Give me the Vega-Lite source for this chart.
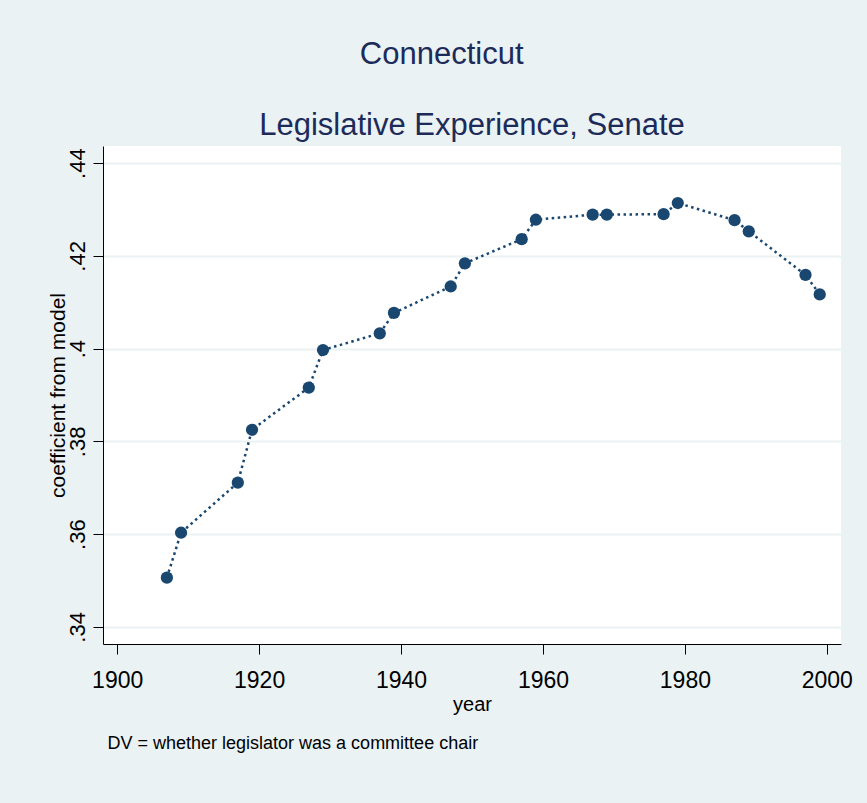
{
  "$schema": "https://vega.github.io/schema/vega-lite/v6.json",
  "background": "#EAF2F3",
  "padding": {"left": 47, "top": 39, "right": 14, "bottom": 66},
  "title": {"text": "Connecticut", "anchor": "middle", "frame": "bounds", "font": "Liberation Sans", "fontSize": 31, "fontWeight": "normal", "color": "#1C2B5A", "baseline": "alphabetic", "offset": 15, "dx": -8},
  "vconcat": [
    {
      "width": 738,
      "height": 498,
      "title": {"text": "Legislative Experience, Senate", "anchor": "middle", "frame": "group", "font": "Liberation Sans", "fontSize": 31, "fontWeight": "normal", "color": "#1C2B5A", "baseline": "alphabetic", "offset": -20},
      "data": {"values": [
        {"year": 1907, "coef": 0.3506},
        {"year": 1909, "coef": 0.3603},
        {"year": 1917, "coef": 0.3711},
        {"year": 1919, "coef": 0.3825},
        {"year": 1927, "coef": 0.3916},
        {"year": 1929, "coef": 0.3997},
        {"year": 1937, "coef": 0.4033},
        {"year": 1939, "coef": 0.4077},
        {"year": 1947, "coef": 0.4134},
        {"year": 1949, "coef": 0.4184},
        {"year": 1957, "coef": 0.4236},
        {"year": 1959, "coef": 0.4278},
        {"year": 1967, "coef": 0.4289},
        {"year": 1969, "coef": 0.4289},
        {"year": 1977, "coef": 0.4290},
        {"year": 1979, "coef": 0.4314},
        {"year": 1987, "coef": 0.4277},
        {"year": 1989, "coef": 0.4253},
        {"year": 1997, "coef": 0.4159},
        {"year": 1999, "coef": 0.4117}
      ]},
      "encoding": {
        "y": {"field": "coef", "type": "quantitative",
          "scale": {"domain": [0.3363, 0.4437], "nice": false, "zero": false},
          "axis": {"values": [0.34, 0.36, 0.38, 0.40, 0.42, 0.44], "labelExpr": "replace(format(datum.value, '.2~f'), '0.', '.')",
            "title": "coefficient from model", "titleFont": "Liberation Sans", "titleFontSize": 21, "titleFontWeight": "normal", "titleColor": "black",
            "titleAngle": 270, "titleBaseline": "alphabetic", "titleAlign": "center", "titleX": -39, "titleY": 249,
            "labelAngle": 270, "labelAlign": "center", "labelBaseline": "alphabetic", "labelFont": "Liberation Sans", "labelFontSize": 22, "labelPadding": 9, "labelColor": "black",
            "tickSize": 10, "tickColor": "black", "domainColor": "black", "grid": true, "gridColor": "#EAF2F3", "gridWidth": 2, "labelOverlap": false}}
      },
      "layer": [
        {
          "mark": {"type": "line", "color": "#1A476F", "strokeWidth": 2.5, "strokeDash": [2.5, 3.5]},
          "encoding": {
            "x": {"field": "year", "type": "quantitative",
              "scale": {"domain": [1898, 2002], "nice": false, "zero": false},
              "axis": {"orient": "bottom", "values": [1900, 1920, 1940, 1960, 1980, 2000], "format": "d", "title": "year", "grid": false,
                "tickSize": 10, "tickColor": "black", "domainColor": "black", "labelColor": "black",
                "labelFont": "Liberation Sans", "labelFontSize": 23, "labelBaseline": "alphabetic", "labelPadding": 33,
                "labelFlush": false, "labelOverlap": false,
                "titleFont": "Liberation Sans", "titleFontSize": 20, "titleFontWeight": "normal", "titleColor": "black", "titleBaseline": "alphabetic", "titleY": 66}}
          }
        },
        {
          "mark": {"type": "point", "filled": true, "size": 150, "color": "#1A476F", "opacity": 1},
          "encoding": {
            "x": {"field": "year", "type": "quantitative",
              "axis": {"orient": "bottom", "title": "DV = whether legislator was a committee chair", "labels": false, "ticks": false, "domain": false, "grid": false,
                "titleFont": "Liberation Sans", "titleFontSize": 18, "titleFontWeight": "normal", "titleColor": "black",
                "titleAnchor": "start", "titleAlign": "left", "titleBaseline": "alphabetic", "titleX": 4, "titleY": 104}}
          }
        }
      ],
      "resolve": {"axis": {"x": "independent"}}
    }
  ],
  "config": {"view": {"fill": "white", "stroke": null}}
}
